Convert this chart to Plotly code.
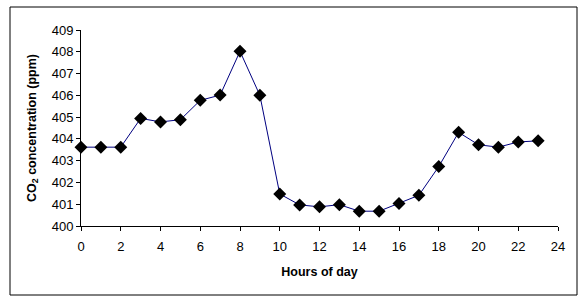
import plotly.graph_objects as go

hours = list(range(24))
co2 = [403.62, 403.62, 403.62, 404.94, 404.78, 404.88, 405.77, 406.01, 408.02, 406.0,
       401.47, 400.97, 400.88, 400.98, 400.68, 400.68, 401.03, 401.41, 402.73, 404.3,
       403.73, 403.62, 403.86, 403.91]
x_ticks = list(range(0, 25, 2))
y_ticks = list(range(400, 410))

fig = go.Figure()
fig.add_trace(go.Scatter(
    x=hours, y=co2, mode="lines+markers",
    line=dict(color="#000080", width=1),
    marker=dict(symbol="diamond", size=10, color="black"),
    cliponaxis=False, showlegend=False))

L, R, T, B = 81, 25, 30, 79
W, H = 583, 305
pw, ph = W - L - R, H - T - B

fig.update_layout(
    width=W, height=H,
    margin=dict(l=L, r=R, t=T, b=B, pad=0),
    paper_bgcolor="white", plot_bgcolor="white",
    font=dict(family="Liberation Sans, Arial, sans-serif", size=11, color="black"),
    xaxis=dict(range=[0, 24], tickvals=x_ticks, ticks="outside", ticklen=4,
               tickcolor="black", showline=True, linecolor="black", linewidth=1,
               showgrid=False, zeroline=False, tickfont=dict(size=13), automargin=False,
               ticklabelstandoff=4,
               title=dict(text="<b>Hours of day</b>", font=dict(size=12.5), standoff=14)),
    yaxis=dict(range=[400, 409], tickvals=y_ticks, ticks="outside", ticklen=4,
               tickcolor="black", showline=True, linecolor="black", linewidth=1,
               showgrid=False, zeroline=False, tickfont=dict(size=13), automargin=False,
               title=dict(text="<b>CO<sub>2</sub> concentration (ppm)</b>", font=dict(size=12.5), standoff=12)),
    shapes=[dict(type="rect", xref="paper", yref="paper",
                 x0=(10 - L) / pw, x1=(577 - L) / pw,
                 y0=(H - B - 295) / ph, y1=(H - B - 7) / ph,
                 line=dict(color="black", width=1), fillcolor="rgba(0,0,0,0)")],
)

fig.write_html("out.html", config={"displayModeBar": False},
               post_script="document.body.style.margin='0';document.body.style.overflow='hidden';")
